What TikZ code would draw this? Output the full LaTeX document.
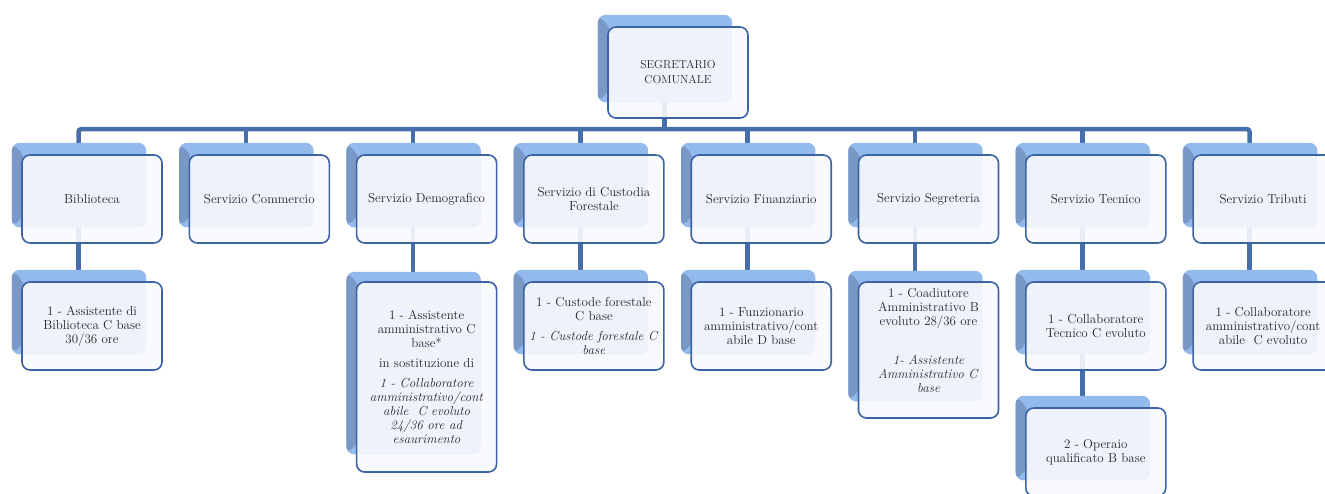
\documentclass[tikz,border=0pt]{standalone}
\usepackage{tikz}
\usetikzlibrary{positioning,shadows,backgrounds}
\definecolor{frame}{RGB}{60,100,165}
\definecolor{back}{RGB}{146,186,236}
\definecolor{bevel}{RGB}{122,152,198}
\definecolor{face}{RGB}{248,249,253}
\definecolor{link}{RGB}{70,110,170}

\begin{document}
\begin{tikzpicture}[x=1pt, y=1pt, node distance=27.3pt,
  box/.style={draw=frame, line width=1.6pt, rounded corners=8pt, fill=face,
    fill opacity=0.91, text opacity=1, text=black!85, outer sep=0pt,
    minimum width=140pt, minimum height=88pt, inner sep=3pt, align=center,
    font=\fontsize{13}{14}\selectfont,
    general shadow={shadow xshift=-13.5pt, shadow yshift=14.5pt, shadow scale=0.96,
      fill=back, draw=none, fill opacity=1,
      path picture={\fill[bevel] (path picture bounding box.north west) -- ++(13pt,-13pt)
        -- ([shift={(13pt,13pt)}]path picture bounding box.south west)
        -- (path picture bounding box.south west) -- cycle;}}},
  conn/.style={draw=link, line width=4.5pt}]
  \useasboundingbox (0,0) rectangle (1325,-493);
  \clip (0,0) rectangle (1325,-493);

  % vertice
  \node[box, minimum height=91pt, font=\fontsize{11.5}{15}\selectfont] (root) at (678,-72.5)
    {SEGRETARIO\\COMUNALE};

  % servizi
  \node[box] (bib) at (92,-199) {Biblioteca};
  \node[box, right=of bib] (com) {Servizio Commercio};
  \node[box, right=of com] (dem) {Servizio Demografico};
  \node[box, right=of dem] (cus) {Servizio di Custodia\\Forestale};
  \node[box, right=of cus] (fin) {Servizio Finanziario};
  \node[box, right=of fin] (seg) {Servizio Segreteria};
  \node[box, right=of seg] (tec) {Servizio Tecnico};
  \node[box, right=of tec] (tri) {Servizio Tributi};

  % personale
  \node[box, below=39pt of bib] (bibA) {1 - Assistente di\\Biblioteca C base\\30/36 ore};
  \node[box, below=39pt of dem, minimum height=190pt] (demA)
    {1 - Assistente\\amministrativo C\\base*\\[6pt]in sostituzione di\\[6pt]
     \textit{1 - Collaboratore}\\\textit{amministrativo/cont}\\\textit{abile \ C evoluto}\\
     \textit{24/36 ore ad}\\\textit{esaurimento}};
  \node[box, below=39pt of cus] (cusA)
    {1 - Custode forestale\\C base\\[6pt]\textit{1 - Custode forestale C}\\\textit{base}};
  \node[box, below=39pt of fin] (finA) {1 - Funzionario\\amministrativo/cont\\abile D base};
  \node[box, below=39pt of seg, minimum height=136pt] (segA)
    {1 - Coadiutore\\Amministrativo B\\evoluto 28/36 ore\\[25pt]
     \textit{1- Assistente}\\\textit{Amministrativo C}\\\textit{base}\\[6pt]~};
  \node[box, below=39pt of tec] (tecA) {1 - Collaboratore\\Tecnico C evoluto};
  \node[box, below=38pt of tecA] (tecB) {2 - Operaio\\qualificato B base};
  \node[box, below=39pt of tri] (triA) {1 - Collaboratore\\amministrativo/cont\\abile \ C evoluto};

  % collegamenti
  \begin{scope}[on background layer]
    \draw[conn] ([xshift=-13.5pt]root.center) -- ++(0,-56.5);
    \draw[conn, rounded corners=3pt] ([xshift=-13.5pt]bib.center) -- ++(0,70)
      -| ([xshift=-13.5pt]tri.center);
    \foreach \n in {com,dem,cus,fin,seg,tec}
      \draw[conn] ([xshift=-13.5pt]\n.center) -- ++(0,70);
    \foreach \a/\b in {bib/bibA,dem/demA,cus/cusA,fin/finA,seg/segA,tec/tecA,tecA/tecB,tri/triA}
      \draw[conn] ([xshift=-13.5pt]\a.center) -- ([xshift=-13.5pt]\b.center);
  \end{scope}
\end{tikzpicture}
\end{document}
